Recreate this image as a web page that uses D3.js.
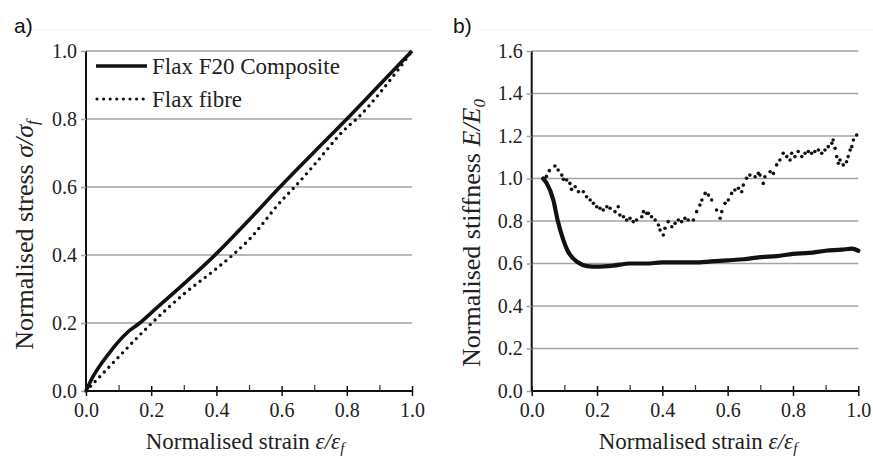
<!DOCTYPE html>
<html>
<head>
<meta charset="utf-8">
<script src="https://cdn.jsdelivr.net/npm/d3@7"></script>
<style>
  body { margin: 0; background: #fff; }
  svg { display: block; }
  .tick text { font-family: "Liberation Serif", "Times New Roman", "DejaVu Serif", serif; font-size: 20px; fill: #222; }
  .title { font-family: "Liberation Serif", "Times New Roman", "DejaVu Serif", serif; font-size: 23px; fill: #222; }
  .ytitle { font-size: 26px; }
  .panel-label { font-family: "Liberation Sans", Arial, sans-serif; font-size: 21px; fill: #111; }
</style>
</head>
<body>
<svg id="chart" width="873" height="457"></svg>
<script>
// panel a) normalised stress vs strain
const compositeStrainA = [0, 0.02, 0.045, 0.07, 0.095, 0.13, 0.165, 0.2, 0.3, 0.4, 0.5, 0.6, 0.7, 0.8, 0.9, 1.0];
const compositeStressA = [0, 0.04, 0.078, 0.11, 0.14, 0.175, 0.2, 0.23, 0.315, 0.404, 0.503, 0.605, 0.703, 0.8, 0.9, 1.0];
const fibreStrainA = [0, 0.03, 0.06, 0.1, 0.15, 0.2, 0.3, 0.4, 0.45, 0.5, 0.6, 0.64, 0.7, 0.8, 0.83, 0.9, 1.0];
const fibreStressA = [0, 0.03, 0.06, 0.1, 0.15, 0.198, 0.285, 0.36, 0.4, 0.445, 0.56, 0.6, 0.665, 0.775, 0.8, 0.875, 1.0];

// panel b) normalised stiffness vs strain
const compositeStrainB = [0.035, 0.045, 0.066, 0.08, 0.097, 0.11, 0.14, 0.17, 0.2, 0.25, 0.3, 0.35, 0.4, 0.45, 0.5, 0.55, 0.6, 0.65, 0.7, 0.75, 0.8, 0.85, 0.9, 0.95, 0.98, 1.0];
const compositeStiffB = [1.0, 0.98, 0.9, 0.8, 0.71, 0.66, 0.607, 0.588, 0.585, 0.59, 0.6, 0.6, 0.605, 0.605, 0.605, 0.61, 0.615, 0.62, 0.63, 0.635, 0.645, 0.65, 0.66, 0.665, 0.67, 0.66];
const fibreStrainB = [0.045, 0.054, 0.071, 0.081, 0.092, 0.097, 0.107, 0.117, 0.122, 0.133, 0.143, 0.158, 0.168, 0.179, 0.189, 0.199, 0.209, 0.219, 0.23, 0.24, 0.255, 0.265, 0.27, 0.281, 0.291, 0.301, 0.311, 0.321, 0.337, 0.342, 0.352, 0.357, 0.367, 0.378, 0.388, 0.393, 0.403, 0.408, 0.418, 0.429, 0.439, 0.449, 0.459, 0.469, 0.479, 0.495, 0.505, 0.515, 0.521, 0.531, 0.541, 0.551, 0.566, 0.577, 0.582, 0.592, 0.602, 0.612, 0.622, 0.633, 0.643, 0.648, 0.658, 0.668, 0.684, 0.694, 0.699, 0.709, 0.714, 0.73, 0.74, 0.75, 0.76, 0.77, 0.781, 0.791, 0.796, 0.806, 0.816, 0.827, 0.837, 0.847, 0.857, 0.867, 0.878, 0.888, 0.898, 0.908, 0.919, 0.923, 0.929, 0.934, 0.939, 0.944, 0.954, 0.964, 0.969, 0.975, 0.98, 0.985, 0.995];
const fibreStiffB = [1.01, 1.037, 1.059, 1.04, 1.016, 0.996, 0.993, 0.977, 0.949, 0.961, 0.938, 0.938, 0.914, 0.899, 0.883, 0.867, 0.86, 0.852, 0.867, 0.86, 0.844, 0.867, 0.828, 0.82, 0.805, 0.813, 0.797, 0.805, 0.82, 0.844, 0.836, 0.836, 0.82, 0.805, 0.781, 0.758, 0.734, 0.766, 0.797, 0.773, 0.789, 0.805, 0.797, 0.813, 0.805, 0.805, 0.844, 0.875, 0.899, 0.93, 0.922, 0.899, 0.852, 0.813, 0.844, 0.883, 0.899, 0.93, 0.946, 0.954, 0.938, 0.969, 1.001, 1.016, 1.008, 1.024, 1.016, 0.977, 1.008, 1.032, 1.024, 1.064, 1.087, 1.119, 1.103, 1.087, 1.119, 1.103, 1.127, 1.103, 1.119, 1.127, 1.119, 1.127, 1.134, 1.119, 1.134, 1.15, 1.166, 1.181, 1.142, 1.103, 1.072, 1.087, 1.064, 1.079, 1.103, 1.134, 1.15, 1.181, 1.205];

const xTicks = [0, 0.2, 0.4, 0.6, 0.8, 1.0];
const xMinorTicks = [0.1, 0.3, 0.5, 0.7, 0.9];
const yTicksA = [0, 0.2, 0.4, 0.6, 0.8, 1.0];
const yTicksB = [0, 0.2, 0.4, 0.6, 0.8, 1.0, 1.2, 1.4, 1.6];
const legendLabels = ['Flax F20 Composite', 'Flax fibre'];

const svg = d3.select('#chart');
const fmt = d3.format('.1f');
const gridColor = '#a3a3a3';
const inkColor = '#111';

// faint frame lines from the source image
svg.append('line').attr('x1', 10).attr('x2', 433).attr('y1', 30).attr('y2', 30)
    .attr('stroke', '#f1f1f1').attr('stroke-width', 1);
svg.append('line').attr('x1', 478).attr('x2', 873).attr('y1', 30).attr('y2', 30)
    .attr('stroke', '#f1f1f1').attr('stroke-width', 1);

function drawFrame(x, y, yTicks) {
    const [x0, x1] = x.range();
    const [yBottom, yTop] = y.range();

    // horizontal gridlines
    svg.append('g').selectAll('line')
        .data(yTicks.filter(d => d > 0))
        .enter().append('line')
        .attr('x1', x0).attr('x2', x1)
        .attr('y1', d => y(d)).attr('y2', d => y(d))
        .attr('stroke', gridColor).attr('stroke-width', 1.5);

    // y axis
    const yAxis = svg.append('g')
        .attr('transform', `translate(${x0},0)`)
        .call(d3.axisLeft(y).tickValues(yTicks).tickFormat(fmt).tickSize(5).tickPadding(4));
    yAxis.attr('font-family', null);
    yAxis.select('.domain').attr('stroke', inkColor).attr('stroke-width', 2).attr('d', `M0,${yBottom}V${yTop}`);
    yAxis.selectAll('.tick line').attr('stroke', gridColor).attr('stroke-width', 1.5);

    // x axis major ticks crossing the axis
    const xAxis = svg.append('g')
        .attr('transform', `translate(0,${yBottom})`)
        .call(d3.axisBottom(x).tickValues(xTicks).tickFormat(fmt).tickSize(5));
    xAxis.attr('font-family', null);
    xAxis.select('.domain').attr('stroke', inkColor).attr('stroke-width', 2).attr('d', `M${x0},0H${x1}`);
    xAxis.selectAll('.tick line').attr('y1', -5).attr('y2', 5)
        .attr('stroke', inkColor).attr('stroke-width', 1.5);
    xAxis.selectAll('.tick text').attr('y', 12);

    // minor ticks pointing up
    const minor = svg.append('g')
        .attr('transform', `translate(0,${yBottom})`)
        .call(d3.axisBottom(x).tickValues(xMinorTicks).tickFormat('').tickSize(0));
    minor.select('.domain').remove();
    minor.selectAll('.tick line').attr('y1', -6).attr('y2', 0)
        .attr('stroke', '#333').attr('stroke-width', 1.2);
}

function xTitle(cx) {
    const t = svg.append('text').attr('class', 'title')
        .attr('x', cx).attr('y', 449).attr('text-anchor', 'middle');
    t.append('tspan').text('Normalised strain ');
    t.append('tspan').attr('font-style', 'italic').text('ε/ε');
    t.append('tspan').attr('font-style', 'italic').attr('font-size', '15px').attr('dy', 4).text('f');
}

function yTitle(bx, cy, main, sym, sub) {
    const t = svg.append('text').attr('class', 'title ytitle')
        .attr('transform', `translate(${bx},${cy}) rotate(-90)`)
        .attr('text-anchor', 'middle');
    t.append('tspan').text(main);
    t.append('tspan').attr('font-style', 'italic').text(sym);
    t.append('tspan').attr('font-style', 'italic').attr('font-size', '17px').attr('dy', 5).text(sub);
}

// ---------- panel a ----------
const xA = d3.scaleLinear().domain([0, 1]).range([86, 412]);
const yA = d3.scaleLinear().domain([0, 1]).range([391, 51]);
drawFrame(xA, yA, yTicksA);

const lineA = d3.line().curve(d3.curveMonotoneX);
svg.append('path')
    .attr('d', lineA(fibreStrainA.map((s, i) => [xA(s), yA(fibreStressA[i])])))
    .attr('fill', 'none').attr('stroke', inkColor).attr('stroke-width', 3.4)
    .attr('stroke-linecap', 'round').attr('stroke-dasharray', '0 6.6');
svg.append('path')
    .attr('d', lineA(compositeStrainA.map((s, i) => [xA(s), yA(compositeStressA[i])])))
    .attr('fill', 'none').attr('stroke', inkColor).attr('stroke-width', 3.6);

// legend
const legend = svg.append('g').attr('class', 'legend');
legend.append('line').attr('x1', 96).attr('x2', 147).attr('y1', 66).attr('y2', 66)
    .attr('stroke', inkColor).attr('stroke-width', 3.6);
legend.append('line').attr('x1', 97).attr('x2', 144).attr('y1', 99).attr('y2', 99)
    .attr('stroke', inkColor).attr('stroke-width', 3.2)
    .attr('stroke-linecap', 'round').attr('stroke-dasharray', '0 6.6');
legend.selectAll('text')
    .data(legendLabels)
    .enter().append('text').attr('class', 'title')
    .attr('x', 152).attr('y', (d, i) => 74 + i * 33)
    .attr('font-size', '24px')
    .text(d => d);

xTitle(245);
yTitle(33, 235, 'Normalised stress ', 'σ/σ', 'f');
svg.append('text').attr('class', 'panel-label').attr('x', 14).attr('y', 33).text('a)');

// ---------- panel b ----------
const xB = d3.scaleLinear().domain([0, 1]).range([531.7, 858.3]);
const yB = d3.scaleLinear().domain([0, 1.6]).range([391, 51]);
drawFrame(xB, yB, yTicksB);

svg.append('g').selectAll('circle')
    .data(fibreStrainB.map((s, i) => [s, fibreStiffB[i]]))
    .enter().append('circle')
    .attr('cx', d => xB(d[0])).attr('cy', d => yB(d[1]))
    .attr('r', 1.8).attr('fill', inkColor);

const lineB = d3.line().curve(d3.curveMonotoneX);
svg.append('path')
    .attr('d', lineB(compositeStrainB.map((s, i) => [xB(s), yB(compositeStiffB[i])])))
    .attr('fill', 'none').attr('stroke', inkColor).attr('stroke-width', 4.2)
    .attr('stroke-linejoin', 'round').attr('stroke-linecap', 'round');

xTitle(698);
yTitle(480, 233, 'Normalised stiffness ', 'E/E', '0');
svg.append('text').attr('class', 'panel-label').attr('x', 453).attr('y', 33).text('b)');
</script>
</body>
</html>
